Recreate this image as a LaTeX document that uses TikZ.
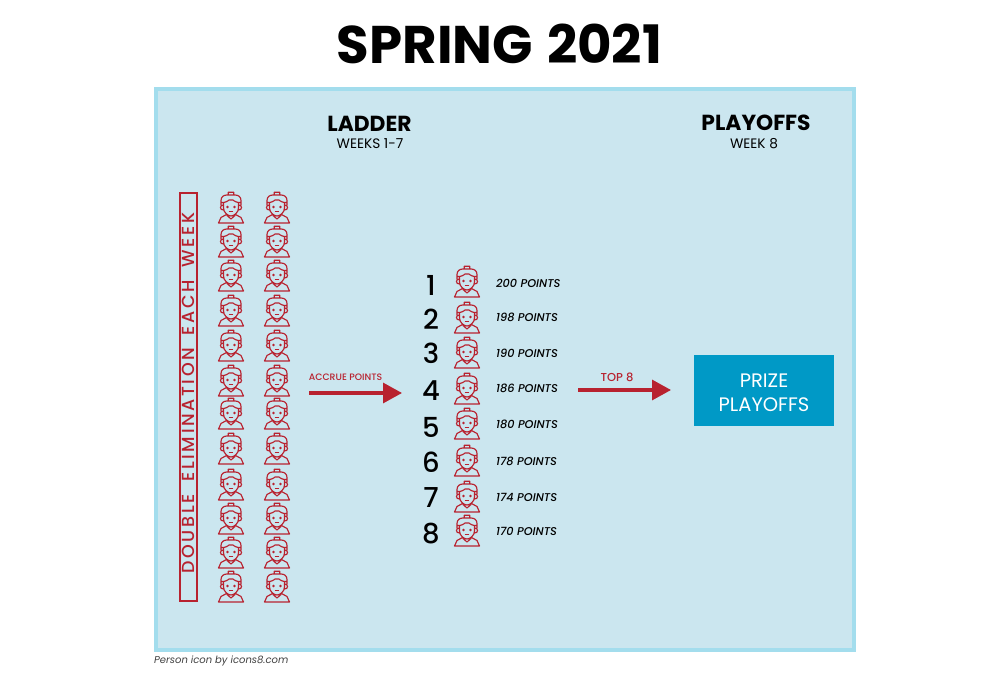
\documentclass[tikz,border=0pt]{standalone}
\usepackage{fontspec}
\setmainfont{Poppins}
\newfontfamily\medfont[ItalicFont={Poppins Medium Italic}]{Poppins Medium}
\usetikzlibrary{arrows.meta}
\definecolor{panelfill}{HTML}{CBE6EF}
\definecolor{panelline}{HTML}{A3DDED}
\definecolor{redc}{HTML}{B8222F}
\definecolor{prize}{HTML}{0099C6}
\tikzset{x=1pt,y=-1pt,
  person/.pic={
    \draw[redc,line width=1.15pt,line join=round,line cap=round]
      (-2.8,-13) -- (-2.8,-15.8) -- (2.8,-15.8) -- (2.8,-13)
      (-10,-3) -- (-10,-7.5) .. controls (-10,-11) and (-7.5,-13) .. (-4,-13) -- (4,-13) .. controls (7.5,-13) and (10,-11) .. (10,-7.5) -- (10,-3)
      (-10,-5.5) .. controls (-6,-5) and (-3,-7) .. (-2,-8) -- (2,-8) .. controls (3,-7) and (6,-5) .. (10,-5.5)
      (-7.5,-5.5) -- (-7.5,0) .. controls (-7.5,4.5) and (-3,8) .. (0,8) .. controls (3,8) and (7.5,4.5) .. (7.5,0) -- (7.5,-5.5)
      (-7.5,-3) .. controls (-11.5,-3.5) and (-11.5,2.5) .. (-7.5,2)
      (7.5,-3) .. controls (11.5,-3.5) and (11.5,2.5) .. (7.5,2)
      (-4.5,6.5) -- (-10,9.5) -- (-12.5,15) -- (12.5,15) -- (10,9.5) -- (4.5,6.5)
      (-4,7.5) -- (0,11) -- (4,7.5);
    \fill[redc] (-3.5,-1) circle (1.3) (3.5,-1) circle (1.3);
    \draw[redc,line width=1.15pt,line cap=round] (-1.5,3.6) -- (1.5,3.6);
  },
  rank/.style={font=\medfont\fontsize{27.5}{28}\selectfont,text=black,inner sep=0pt,anchor=center},
  pts/.style={font=\medfont\fontsize{11.3}{12}\selectfont\itshape,text=black,inner sep=0pt,anchor=west},
  head/.style={font=\fontsize{21.8}{22}\selectfont\bfseries,text=black,inner sep=0pt},
  sub/.style={font=\fontsize{13.7}{14}\selectfont,text=black,inner sep=0pt},
  bigarrow/.style={redc,line width=3.2pt,-{Triangle[length=19pt,width=20pt]}},
  arrowlabel/.style={text=redc,inner sep=0pt},
}
\begin{document}
\begin{tikzpicture}
\useasboundingbox (0,0) rectangle (993,676);
\fill[white] (0,0) rectangle (993,676);
\node[font=\fontsize{53}{54}\selectfont\bfseries,inner sep=0pt] (title) at (499.5,44) {SPRING\hspace{3pt} 2021};
\draw[panelline,fill=panelfill,line width=4pt] (156,89) rectangle (854,650);
\node[head] (ladder) at (369.5,124) {LADDER};
\node[sub] (weeks) at (370,144) {WEEKS 1-7};
\node[head] (playoffs) at (756,123) {PLAYOFFS};
\node[sub] (week8) at (754,144) {WEEK 8};
\node[draw=redc,line width=2pt,rotate=90,minimum width=407pt,minimum height=17pt,inner sep=0pt,text=redc,font=\medfont\fontsize{17.5}{18}\selectfont,text width=400pt,align=center] (dbl) at (188,397) {\hspace*{8pt}\addfontfeatures{LetterSpace=15}DOUBLE\hspace{7pt} ELIMINATION\hspace{7pt} EACH\hspace{7pt} WEEK};
\foreach \y in {208,242,276,311,346,381,414,449,485,519,553,587}{
  \pic at (231,\y) {person};
  \pic at (277,\y) {person};
}
\foreach \n/\yr/\yi/\yt/\p in {1/285.5/282/283.5/200,2/319.5/318/317.5/198,3/353.5/353/353.5/190,4/390.5/389/388.5/186,5/427.5/424/424.5/180,6/462.5/461/461.5/178,7/497.5/497/497.5/174,8/533.5/531/531.5/170}{
  \node[rank] at (431,\yr) {\n};
  \pic at (467,\yi) {person};
  \node[pts] at (496,\yt) {\p{} POINTS};
}
\node[arrowlabel,font=\medfont\fontsize{9.3}{10}\selectfont] (accrue) at (345.5,377) {ACCRUE POINTS};
\coordinate (a1) at (309,393);
\coordinate (a2) at (402,393);
\draw[bigarrow] (a1) -- (a2);
\node[arrowlabel,font=\medfont\fontsize{11.5}{12}\selectfont] (top8) at (617,377) {TOP 8};
\coordinate (b1) at (578,390);
\coordinate (b2) at (671,390);
\draw[bigarrow] (b1) -- (b2);
\node[fill=prize,minimum width=140pt,minimum height=71pt,inner sep=0pt] (prizebox) at (764,390.5) {};
\node[text=white,inner sep=0pt,align=center,font=\fontsize{19.5}{24}\selectfont] (prizetext) at (764,392.5) {PRIZE\\PLAYOFFS};
\node[font=\fontsize{10}{12}\selectfont\itshape,text=black!75,inner sep=0pt,anchor=west] (credit) at (154,660.5) {Person icon by icons8.com};
\end{tikzpicture}
\end{document}
